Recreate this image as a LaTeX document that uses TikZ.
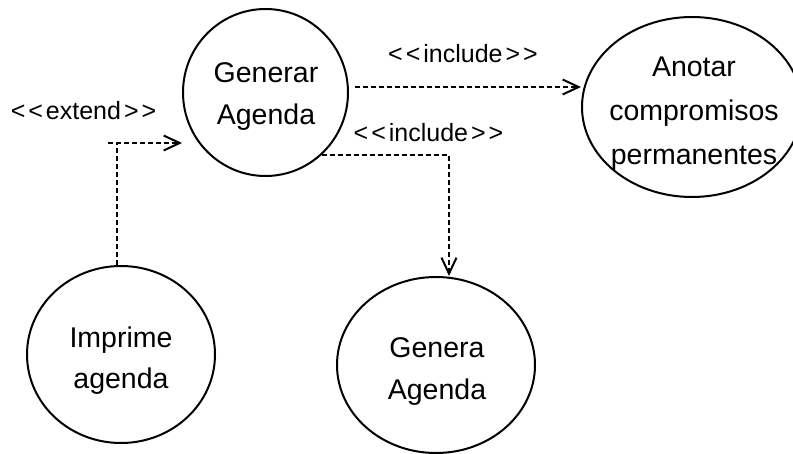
\documentclass[tikz,border=0pt]{standalone}
\usepackage{fontspec}
\setmainfont{Liberation Sans}
\usetikzlibrary{shapes.geometric,arrows.meta,calc}
% stereotype text such as <<include>>
\newcommand\ucstereo[1]{<\kern3pt<\kern3pt#1\kern3pt>\kern3pt>}
\begin{document}
\begin{tikzpicture}[x=1pt,y=-1pt,
  usecase/.style={draw,ellipse,line width=2pt,inner sep=0pt},
  uctext/.style={align=center,inner sep=0pt},
  stereolabel/.style={anchor=base,inner sep=0pt,font=\fontsize{25}{30}\selectfont},
  dep/.style={line width=2pt,dash pattern=on 5pt off 3pt},
  deparrow/.style={dep,-{Straight Barb[length=16pt,width=15pt,line width=2pt]}}]
\clip (0,0) rectangle (793,454);

% use cases
\node[usecase,minimum width=165pt,minimum height=167pt] (gen)  at (265.5,92.5) {};
\node[usecase,minimum width=220pt,minimum height=180pt] (anot) at (692,107) {};
\node[usecase,minimum width=188pt,minimum height=177pt] (imp)  at (121,354.5) {};
\node[usecase,minimum width=198pt,minimum height=176pt] (genA) at (436,365) {};

\node[uctext,font=\fontsize{28.5}{42}\selectfont] (gentext)  at (266,96.8) {Generar\\Agenda};
\node[uctext,font=\fontsize{28.5}{44}\selectfont] (anottext) at (694,114) {Anotar\\compromisos\\permanentes};
\node[uctext,font=\fontsize{28.5}{41}\selectfont] (imptext)  at (121,360.5) {Imprime\\agenda};
\node[uctext,font=\fontsize{28.5}{42}\selectfont] (genAtext) at (437,371.7) {Genera\\Agenda};

% include: Generar Agenda -> Anotar compromisos permanentes
\coordinate (inc1) at ([shift={(6pt,5.5pt)}]gen.east);
\draw[deparrow] (inc1) -- (inc1 -| anot.west);
\node[stereolabel] (inc1label) at (463,63) {\ucstereo{include}};

% include: Generar Agenda -> Genera Agenda
\draw[deparrow] (gen.-48) -| ([xshift=13pt]genA.north);
\node[stereolabel] (inc2label) at (428.5,142) {\ucstereo{include}};

% extend: Imprime agenda -> Generar Agenda
\coordinate (extbend) at (117,143);
\draw[dep] (imp.north -| extbend) -- (extbend);
\draw[deparrow] ([xshift=-9pt]extbend) -- (extbend -| gen.west);
\node[stereolabel] (extlabel) at (83.5,120) {\ucstereo{extend}};
\end{tikzpicture}
\end{document}
